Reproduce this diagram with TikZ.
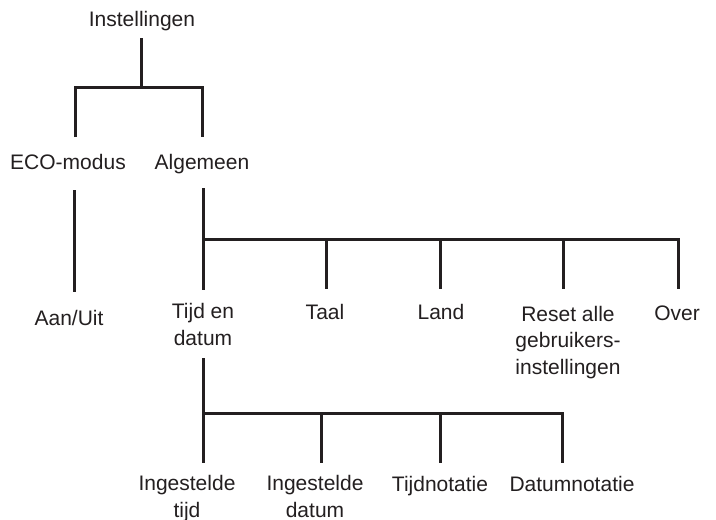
\documentclass[tikz,border=0pt]{standalone}
\usepackage{fontspec}
\setmainfont{Liberation Sans}
\definecolor{ink}{HTML}{231F20}
\begin{document}
\begin{tikzpicture}[x=1pt,y=-1pt,
  lbl/.style={font=\fontsize{21}{26.5}\selectfont, text=ink, inner sep=0pt, align=center, anchor=base},
  conn/.style={draw=ink, line width=3pt}]
\useasboundingbox[fill=white] (0,0) rectangle (716,520);
% nodes (anchor = baseline of the last line)
\node[lbl] (inst) at (142,26) {Instellingen};
\node[lbl] (eco) at (68,169) {ECO-modus};
\node[lbl] (alg) at (202,169) {Algemeen};
\node[lbl] (aan) at (69,325) {Aan/Uit};
\node[lbl] (tijd) at (203,345) {Tijd en\\datum};
\node[lbl] (taal) at (325,319) {Taal};
\node[lbl] (land) at (441,319) {Land};
\node[lbl] (reset) at (568,374) {Reset alle\\gebruikers-\\instellingen};
\node[lbl] (over) at (677,320) {Over};
\node[lbl] (ing1) at (187,517) {Ingestelde\\tijd};
\node[lbl] (ing2) at (315,517) {Ingestelde\\datum};
\node[lbl] (tnot) at (440,491) {Tijdnotatie};
\node[lbl] (dnot) at (572,491) {Datumnotatie};
% connector ends
\coordinate (instS) at (141,38);
\coordinate (j0) at (141,87);
\coordinate (ecoN) at (75,137);
\coordinate (algN) at (202,137);
\coordinate (ecoS) at (74,190);
\coordinate (aanN) at (74,292);
\coordinate (algS) at (203,188);
\coordinate (tijdN) at (203,290);
\coordinate (j1) at (203,239);
\coordinate (taalN) at (326,289);
\coordinate (landN) at (440,289);
\coordinate (resetN) at (563,289);
\coordinate (overN) at (678,289);
\coordinate (tijdS) at (203,358);
\coordinate (ing1N) at (203,463);
\coordinate (j2) at (203,413);
\coordinate (ing2N) at (321,463);
\coordinate (tnotN) at (440,463);
\coordinate (dnotN) at (562,463);
% connectors
\draw[conn] (instS) -- (j0);
\draw[conn] (ecoN) -- (ecoN |- j0) -- (algN |- j0) -- (algN);
\draw[conn] (ecoS) -- (aanN);
\draw[conn] (algS) -- (tijdN);
\draw[conn] (j1) -- (overN |- j1) -- (overN);
\draw[conn] (taalN |- j1) -- (taalN);
\draw[conn] (landN |- j1) -- (landN);
\draw[conn] (resetN |- j1) -- (resetN);
\draw[conn] (tijdS) -- (ing1N);
\draw[conn] (j2) -- (dnotN |- j2) -- (dnotN);
\draw[conn] (ing2N |- j2) -- (ing2N);
\draw[conn] (tnotN |- j2) -- (tnotN);
\end{tikzpicture}
\end{document}
